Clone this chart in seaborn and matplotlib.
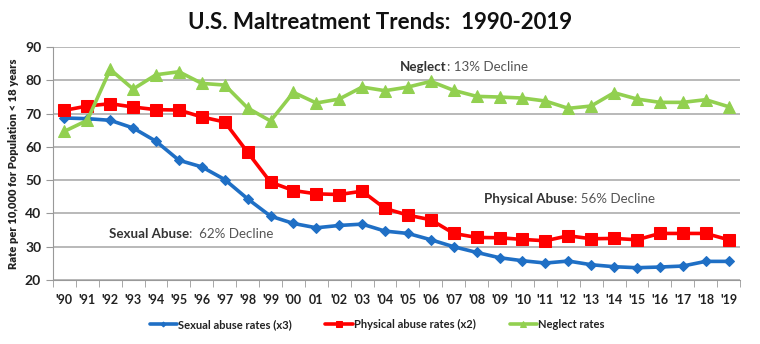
import matplotlib
matplotlib.use("Agg")
import matplotlib.pyplot as plt
import seaborn as sns
import pandas as pd
import numpy as np

years = ["'90", "'91", "'92", "'93", "'94", "'95", "'96", "'97", "'98", "'99",
         "'00", "01", "'02", "'03", "'04", "'05", "'06", "'07", "'08", "'09",
         "'10", "'11", "'12", "'13", "'14", "'15", "'16", "'17", "'18", "'19"]
sexual = [68.7, 68.5, 68.0, 65.7, 61.7, 56.0, 54.0, 50.2, 44.4, 39.2,
          37.0, 35.7, 36.4, 36.8, 34.7, 34.0, 32.1, 30.0, 28.3, 26.7,
          25.8, 25.1, 25.7, 24.6, 24.0, 23.7, 23.9, 24.2, 25.6, 25.6]
physical = [71.0, 72.3, 73.0, 72.0, 71.2, 71.1, 69.0, 67.5, 58.4, 49.4,
            46.9, 45.9, 45.7, 46.7, 41.5, 39.5, 38.1, 34.0, 32.8, 32.7,
            32.2, 31.8, 33.3, 32.4, 32.5, 32.1, 34.0, 34.0, 34.0, 32.1]
neglect = [64.7, 68.0, 83.3, 77.4, 81.7, 82.6, 79.1, 78.6, 71.7, 67.8,
           76.4, 73.2, 74.4, 78.0, 76.9, 78.0, 79.7, 77.0, 75.2, 75.0,
           74.7, 73.8, 71.6, 72.3, 76.3, 74.4, 73.4, 73.4, 74.2, 72.1]
series_names = ["Sexual abuse rates (x3)", "Physical abuse rates (x2)", "Neglect rates"]

sns.set_style("white")
plt.rcParams['font.family'] = ['Lato', 'DejaVu Sans']

df = pd.DataFrame({
    "x": list(range(len(years))) * 3,
    "value": sexual + physical + neglect,
    "series": [series_names[0]] * len(years) + [series_names[1]] * len(years) + [series_names[2]] * len(years),
})

fig = plt.figure(figsize=(7.6, 3.44), dpi=100)
ax = fig.add_axes([0.0697, 0.186, 0.904, 0.677])

colors = ["#1F6FC5", "#FF0000", "#92D050"]
markers = ["D", "s", "^"]
msizes = [5, 9, 8]
for name, c, m, ms in zip(series_names, colors, markers, msizes):
    sub = df[df["series"] == name]
    sns.lineplot(data=sub, x="x", y="value", ax=ax, color=c, marker=m,
                 markersize=ms, markeredgecolor=c, linewidth=2.6, label=name)

ax.set_xlim(-0.5, len(years) - 0.5)
ax.set_ylim(20, 90)
ax.set_yticks(range(20, 91, 10))
ax.set_xticks(range(len(years)))
ax.set_xticklabels(years)
ax.set_xticks(np.arange(-0.5, len(years), 1), minor=True)
ax.tick_params(axis='x', which='major', length=0, pad=10, labelsize=9, colors='#222222')
ax.tick_params(axis='x', which='minor', length=5, direction='out', color='#999999', bottom=True)
ax.tick_params(axis='y', which='major', length=5, direction='out', color='#999999', left=True,
               labelsize=10, colors='#222222')
for lbl in ax.get_xticklabels() + ax.get_yticklabels():
    lbl.set_fontweight('bold')
ax.yaxis.grid(True, color='#A6A6A6', linewidth=1.1)
ax.set_axisbelow(True)
for s in ['top', 'right']:
    ax.spines[s].set_visible(False)
for s in ['left', 'bottom']:
    ax.spines[s].set_color('#999999')
ax.set_xlabel("")
ax.set_ylabel("Rate per 10,000 for Population < 18 years", fontsize=8, fontweight='heavy',
              labelpad=4, color='#222222')

fig.text(0.5, 0.935, "U.S. Maltreatment Trends:  1990-2019", ha='center', va='center',
         fontsize=16, fontweight='bold', color='#111111')

def label(x, y, bold, rest):
    t = ax.text(x, y, bold, fontsize=9.6, fontweight='bold', color='#333333', va='center',
                transform=ax.transAxes)
    ax.annotate(rest, xy=(1, 0.5), xycoords=t, va='center', fontsize=9.6, color='#555555')

label(0.505, 0.915, "Neglect", ": 13% Decline")
label(0.628, 0.348, "Physical Abuse", ": 56% Decline")
label(0.082, 0.197, "Sexual Abuse", ":  62% Decline")

leg = ax.legend(loc='upper center', bbox_to_anchor=(0.472, -0.125), ncol=3, frameon=False,
                fontsize=8, handlelength=2.5, handletextpad=0.1, columnspacing=3.0,
                markerscale=0.5)
for txt in leg.get_texts():
    txt.set_fontweight('bold')
    txt.set_color('#222222')

fig.savefig("out.png", dpi=100)
